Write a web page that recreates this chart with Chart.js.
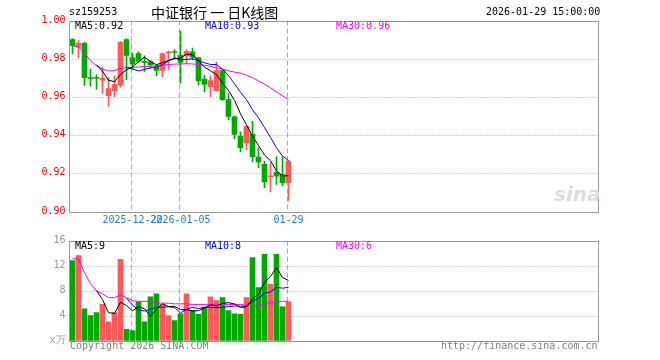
<!DOCTYPE html>
<html>
<head>
<meta charset="utf-8">
<script src="https://cdn.jsdelivr.net/npm/chart.js@4.4.1/dist/chart.umd.min.js"></script>
<style>
body{margin:0;background:#fff;width:660px;height:360px;position:relative;overflow:hidden;font-family:'DejaVu Sans Mono',monospace;font-size:10px}
canvas{position:absolute;left:0}
#kc{top:0}
#vc{top:230px}
.t{position:absolute;white-space:nowrap;line-height:12px}
</style>
</head>
<body>
<canvas id="kc" width="660" height="230"></canvas>
<canvas id="vc" width="660" height="130"></canvas>

<div class="t" style="left:69px;top:6px;color:#000">sz159253</div>
<div class="t" style="left:151px;top:3px;font-family:'Noto Sans CJK SC';font-size:14px;line-height:18px;color:#000">中证银行 一 日K线图</div>
<div class="t" style="left:486px;top:6px;color:#000">2026-01-29 15:00:00</div>

<div class="t" style="left:75px;top:20px;color:#000">MA5:0.92</div>
<div class="t" style="left:205px;top:20px;color:#0000ee">MA10:0.93</div>
<div class="t" style="left:336px;top:20px;color:#ff00ff">MA30:0.96</div>

<div class="t" style="left:75px;top:240px;color:#000">MA5:9</div>
<div class="t" style="left:205px;top:240px;color:#0000ee">MA10:8</div>
<div class="t" style="left:336px;top:240px;color:#ff00ff">MA30:6</div>

<div class="t" style="left:70px;top:340px;color:#808080">Copyright 2026 SINA.COM</div>
<div class="t" style="left:441px;top:340px;color:#808080">http://finance.sina.com.cn</div>

<div class="t" style="left:554px;top:183px;font-family:'DejaVu Sans';font-style:italic;font-weight:bold;font-size:20px;line-height:22px;color:#e2dcdc">sina</div>

<script>
// trading days shown
const dates = ['2025-12-08','2025-12-09','2025-12-10','2025-12-11','2025-12-12','2025-12-15','2025-12-16','2025-12-17','2025-12-18','2025-12-19',
  '2025-12-22','2025-12-23','2025-12-24','2025-12-25','2025-12-26','2025-12-29','2025-12-30','2025-12-31',
  '2026-01-05','2026-01-06','2026-01-07','2026-01-08','2026-01-09','2026-01-12','2026-01-13','2026-01-14','2026-01-15','2026-01-16',
  '2026-01-19','2026-01-20','2026-01-21','2026-01-22','2026-01-23','2026-01-26','2026-01-27','2026-01-28','2026-01-29'];

const open  = [0.990,0.986,0.988,0.970,0.9702,0.9687,0.9605,0.9632,0.966,0.990,0.9805,0.9826,0.9785,0.9784,0.9758,0.9738,0.983,0.9836,0.9817,
  0.9814,0.9836,0.9805,0.9693,0.9653,0.9632,0.9737,0.9585,0.9494,0.9393,0.9358,0.9402,0.9283,0.9245,0.918,0.9204,0.9192,0.9149];
const high  = [0.9905,0.9894,0.9886,0.9745,0.9715,0.9755,0.970,0.971,0.989,0.9905,0.983,0.9835,0.9815,0.979,0.977,0.983,0.984,0.9847,0.9945,
  0.9847,0.9855,0.9805,0.9712,0.971,0.9782,0.974,0.9616,0.950,0.9415,0.9448,0.9471,0.9332,0.9262,0.9253,0.9285,0.9285,0.9265];
const low   = [0.9824,0.9803,0.9659,0.9655,0.964,0.9617,0.955,0.960,0.965,0.969,0.9746,0.978,0.9733,0.975,0.971,0.9705,0.974,0.9798,0.967,
  0.9773,0.9794,0.9662,0.9625,0.960,0.963,0.958,0.948,0.938,0.931,0.932,0.9257,0.9227,0.9123,0.910,0.914,0.9131,0.9056];
const close = [0.9868,0.988,0.970,0.9695,0.9697,0.9697,0.9642,0.9663,0.9885,0.9817,0.9772,0.9785,0.978,0.9767,0.9738,0.9827,0.9836,0.9832,0.978,
  0.9838,0.9808,0.9684,0.9665,0.9684,0.9737,0.9585,0.9496,0.9402,0.9332,0.9445,0.9285,0.9257,0.9152,0.918,0.9183,0.9149,0.9262];

const ma5  = [null,null,null,null,0.9768,0.9734,0.9686,0.9679,0.9717,0.9741,0.9756,0.9784,0.9808,0.9784,0.9768,0.9779,0.9790,0.9800,0.9803,
  0.9823,0.9819,0.9788,0.9755,0.9736,0.9716,0.9671,0.9633,0.9581,0.9510,0.9452,0.9392,0.9344,0.9294,0.9264,0.9211,0.9184,0.9185];
const ma10 = [null,null,null,null,null,null,null,null,null,0.9754,0.9745,0.9735,0.9743,0.9751,0.9755,0.9768,0.9787,0.9804,0.9793,
  0.9796,0.9799,0.9789,0.9778,0.9769,0.9769,0.9745,0.9711,0.9668,0.9623,0.9584,0.9532,0.9489,0.9438,0.9387,0.9332,0.9288,0.9265];
const ma30 = [0.9868,0.9862,0.9830,0.9790,0.9762,0.9745,0.9735,0.9737,0.9748,0.9752,0.9754,0.9756,0.9758,0.9760,0.9763,0.9766,0.9768,0.9771,0.9772,
  0.9773,0.9772,0.9769,0.9765,0.9759,0.9752,0.9746,0.9736,0.9729,0.9724,0.9713,0.9700,0.9683,0.9666,0.9647,0.9625,0.9605,0.9585];

// volume, in 万
const vol   = [12.8,13.6,5.1,4.0,4.5,5.8,3.0,4.5,13.0,1.8,1.6,6.2,3.0,7.0,7.5,5.8,4.0,3.2,4.3,7.5,4.8,4.2,5.3,7.0,6.4,6.9,4.8,4.3,4.2,6.9,
  13.3,8.5,13.8,9.0,13.8,5.4,6.2];
const vma5  = [null,null,null,null,8.00,6.60,4.48,4.36,6.16,5.62,4.78,5.42,5.12,3.92,5.06,5.90,5.46,5.50,4.96,4.96,4.76,4.80,5.22,5.76,5.54,
  5.96,6.08,5.88,5.32,5.42,6.70,7.44,9.34,10.30,11.68,10.10,9.64];
const vma10 = [null,null,null,null,null,null,null,null,null,6.81,5.69,4.95,4.74,5.04,5.34,5.34,5.44,5.31,4.44,5.01,5.33,5.13,5.36,5.36,5.25,
  5.36,5.44,5.55,5.54,5.48,6.33,6.76,7.61,7.81,8.55,8.40,8.54];
const vma30 = [13.1,13.1,10.9,9.1,8.0,7.5,6.9,6.9,7.3,6.9,6.4,6.3,6.3,6.2,6.1,6.0,6.0,5.9,5.9,5.9,5.8,5.8,5.8,5.8,5.8,5.8,5.8,5.8,5.8,5.7,
  5.6,5.7,5.9,6.1,6.2,6.3,6.3];

const tickIdx    = [10, 18, 36];
const tickLabels = ['2025-12-22', '2026-01-05', '01-29'];
const priceTicks = [0.90, 0.92, 0.94, 0.96, 0.98, 1.00];
const volTicks   = [0, 4, 8, 12, 16];

const UP = '#ff5a5a', DOWN = '#00a800';
const colors = close.map((c, i) => c >= open[i] ? UP : DOWN);
const font = { family: 'DejaVu Sans Mono', size: 10 };

const LEFT = 69.5, RIGHT = 598, SLOT = 6;
const xMax = -0.5 + (RIGHT - LEFT) / SLOT;

function pts(arr) { return arr.map((v, i) => ({ x: i, y: v })); }

function maLine(arr, color) {
  return { type: 'line', data: pts(arr), borderColor: color, borderWidth: 1, pointRadius: 0, tension: 0, order: 0 };
}

// box, dotted rows and dashed date columns
const frame = {
  id: 'frame',
  beforeDatasetsDraw(chart, args, opts) {
    const { ctx, chartArea: a, scales: { x, y } } = chart;
    ctx.save();
    ctx.strokeStyle = '#aaa';
    ctx.lineWidth = 1;
    ctx.setLineDash([1, 2]);
    opts.rows.forEach(v => {
      const py = Math.round(y.getPixelForValue(v)) + 0.5;
      ctx.beginPath(); ctx.moveTo(a.left, py); ctx.lineTo(a.right, py); ctx.stroke();
    });
    ctx.setLineDash([5, 3]);
    tickIdx.forEach(i => {
      const px = Math.round(x.getPixelForValue(i)) - 1.5;
      ctx.beginPath(); ctx.moveTo(px, a.top); ctx.lineTo(px, a.bottom); ctx.stroke();
    });
    ctx.restore();
  },
  afterDatasetsDraw(chart) {
    const { ctx, chartArea: a } = chart;
    ctx.save();
    ctx.strokeStyle = '#999';
    ctx.lineWidth = 1;
    ctx.strokeRect(Math.round(a.left) - 0.5, Math.round(a.top) + 0.5, Math.round(a.right - a.left), Math.round(a.bottom - a.top));
    ctx.restore();
  }
};

const Kconfig = {
  type: 'bar',
  data: {
    datasets: [
      maLine(ma5, '#000000'),
      maLine(ma10, '#0000ff'),
      maLine(ma30, '#ff00ff'),
      { type: 'bar', data: open.map((o, i) => ({ x: i, y: [o, close[i]] })), backgroundColor: colors,
        barThickness: 5, minBarLength: 1, grouped: false, order: 1 },
      { type: 'bar', data: low.map((l, i) => ({ x: i, y: [l, high[i]] })), backgroundColor: colors,
        barThickness: 1, grouped: false, order: 2 }
    ]
  },
  options: {
    responsive: false,
    animation: false,
    layout: { padding: { left: 0, right: 660 - RIGHT, top: 20.5, bottom: 0 } },
    plugins: { legend: { display: false }, tooltip: { enabled: false }, frame: { rows: [0.92, 0.94, 0.96, 0.98] } },
    scales: {
      x: {
        type: 'linear', min: -0.5, max: xMax, offset: false,
        grid: { display: false, drawTicks: false }, border: { display: false },
        afterBuildTicks: s => { s.ticks = tickIdx.map(v => ({ value: v })); },
        ticks: { autoSkip: false, maxRotation: 0, padding: 3, color: '#1a7fd6', font: font,
          callback: (v, i) => tickLabels[i] },
        afterFit: s => { s.height = 19; }
      },
      y: {
        min: 0.90, max: 1.00,
        grid: { display: false, drawTicks: false }, border: { display: false },
        afterBuildTicks: s => { s.ticks = priceTicks.map(v => ({ value: v })); },
        ticks: { padding: 4, color: '#ff0000', font: font, callback: v => v.toFixed(2) },
        afterFit: s => { s.width = LEFT; }
      }
    }
  },
  plugins: [frame]
};

const Vconfig = {
  type: 'bar',
  data: {
    datasets: [
      maLine(vma5, '#000000'),
      maLine(vma10, '#0000ff'),
      maLine(vma30, '#ff00ff'),
      { type: 'bar', data: pts(vol), backgroundColor: colors, barThickness: 5, grouped: false, order: 1 }
    ]
  },
  options: {
    responsive: false,
    animation: false,
    layout: { padding: { left: 0, right: 660 - RIGHT, top: 10.7, bottom: 19.3 } },
    plugins: { legend: { display: false }, tooltip: { enabled: false }, frame: { rows: [4, 8, 12] } },
    scales: {
      x: { type: 'linear', min: -0.5, max: xMax, offset: false, display: false,
        afterBuildTicks: s => { s.ticks = tickIdx.map(v => ({ value: v })); } },
      y: {
        min: 0, max: 16,
        grid: { display: false, drawTicks: false }, border: { display: false },
        afterBuildTicks: s => { s.ticks = volTicks.map(v => ({ value: v })); },
        ticks: { padding: 4, color: '#999', font: font, callback: v => v === 0 ? 'x万' : String(v) },
        afterFit: s => { s.width = LEFT; }
      }
    }
  },
  plugins: [frame]
};

var KChart = new Chart(document.getElementById('kc'), Kconfig);
var VChart = new Chart(document.getElementById('vc'), Vconfig);
</script>
</body>
</html>
